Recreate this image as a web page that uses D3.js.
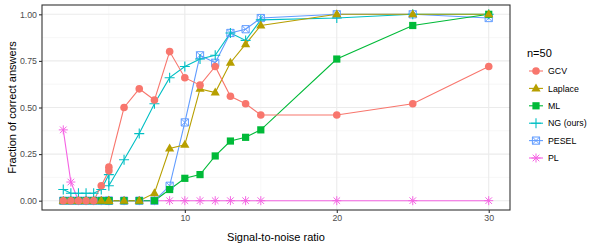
<!DOCTYPE html>
<html>
<head>
<meta charset="utf-8">
<script src="https://cdn.jsdelivr.net/npm/d3@7"></script>
<style>
  body { margin: 0; background: #fff; }
  text { font-family: "Liberation Sans", Arial, sans-serif; }
</style>
</head>
<body>
<main></main>
<script>
// Data
const snr = [2, 2.5, 3, 3.5, 4, 4.5, 5, 5, 6, 7, 8, 9, 10, 11, 12, 13, 14, 15, 20, 25, 30];
const gcv     = [0, 0, 0, 0, 0, 0.08, 0.16, 0.18, 0.50, 0.60, 0.54, 0.80, 0.66, 0.62, 0.72, 0.56, 0.52, 0.46, 0.46, 0.52, 0.72];
const laplace = [0, 0, 0, 0, 0, 0, 0, 0, 0, 0, 0.04, 0.28, 0.30, 0.60, 0.58, 0.74, 0.84, 0.94, 1, 1, 1];
const ml      = [0, 0, 0, 0, 0, 0, 0, 0, 0, 0, 0, 0.06, 0.12, 0.14, 0.24, 0.32, 0.34, 0.38, 0.76, 0.94, 1];
const ng      = [0.06, 0.04, 0.04, 0.04, 0.04, 0.06, 0.14, 0.08, 0.22, 0.36, 0.52, 0.66, 0.72, 0.76, 0.78, 0.90, 0.86, 0.97, 0.98, 1, 1];
const pesel   = [0, 0, 0, 0, 0, 0, 0, 0, 0, 0, 0, 0.08, 0.42, 0.78, 0.74, 0.90, 0.92, 0.98, 1, 1, 0.98];
const pl      = [0.38, 0.10, 0, 0, 0, 0, 0, 0, 0, 0, 0, 0, 0, 0, 0, 0, 0, 0, 0, 0, 0];

const methodNames = ["GCV", "Laplace", "ML", "NG (ours)", "PESEL", "PL"];
const methodValues = [gcv, laplace, ml, ng, pesel, pl];
const colors = ["#F8766D", "#B79F00", "#00BA38", "#00BFC4", "#619CFF", "#F564E3"];
const shapes = ["circle", "triangle", "square", "plus", "squarecross", "asterisk"];
const xTicks = [10, 20, 30];
const yTicks = [0, 0.25, 0.5, 0.75, 1];

const series = methodNames.map((name, i) => ({
	name,
	color: colors[i],
	shape: shapes[i],
	points: snr.map((x, j) => ({ x, y: methodValues[i][j] })),
}));

// Dimensions
const dimensions = {
	width: 598,
	height: 244,
	margin: { top: 5, right: 88, bottom: 34, left: 42 },
};
dimensions.boundedWidth = dimensions.width - dimensions.margin.left - dimensions.margin.right;
dimensions.boundedHeight = dimensions.height - dimensions.margin.top - dimensions.margin.bottom;

const svg = d3.select("main")
	.append("svg")
		.attr("width", dimensions.width)
		.attr("height", dimensions.height);

const graph = svg.append("g")
	.attr("transform", `translate(${dimensions.margin.left},${dimensions.margin.top})`);

// Scales (ggplot style 5% expansion)
const xExt = d3.extent(snr);
const xPad = (xExt[1] - xExt[0]) * 0.05;
const xScale = d3.scaleLinear()
	.domain([xExt[0] - xPad, xExt[1] + xPad])
	.range([0, dimensions.boundedWidth]);

const yScale = d3.scaleLinear()
	.domain([-0.05, 1.05])
	.range([dimensions.boundedHeight, 0]);

// Grid
const grid = graph.append("g");
[5, 15, 25].forEach(v => grid.append("line")
	.attr("x1", xScale(v)).attr("x2", xScale(v))
	.attr("y1", 0).attr("y2", dimensions.boundedHeight)
	.attr("stroke", "#F2F2F2").attr("stroke-width", 0.6));
[0.125, 0.375, 0.625, 0.875].forEach(v => grid.append("line")
	.attr("y1", yScale(v)).attr("y2", yScale(v))
	.attr("x1", 0).attr("x2", dimensions.boundedWidth)
	.attr("stroke", "#F2F2F2").attr("stroke-width", 0.6));
xTicks.forEach(v => grid.append("line")
	.attr("x1", xScale(v)).attr("x2", xScale(v))
	.attr("y1", 0).attr("y2", dimensions.boundedHeight)
	.attr("stroke", "#EBEBEB").attr("stroke-width", 1.1));
yTicks.forEach(v => grid.append("line")
	.attr("y1", yScale(v)).attr("y2", yScale(v))
	.attr("x1", 0).attr("x2", dimensions.boundedWidth)
	.attr("stroke", "#EBEBEB").attr("stroke-width", 1.1));

// Marker drawing
function drawMarker(sel, shape, color) {
	if (shape === "circle") {
		sel.append("circle").attr("r", 3.8).attr("fill", color);
	} else if (shape === "triangle") {
		sel.append("path").attr("d", "M0,-5L4.6,3L-4.6,3Z").attr("fill", color);
	} else if (shape === "square") {
		sel.append("rect").attr("x", -3.6).attr("y", -3.6).attr("width", 7.2).attr("height", 7.2).attr("fill", color);
	} else if (shape === "plus") {
		sel.append("path").attr("d", "M-5,0H5M0,-5V5").attr("stroke", color).attr("stroke-width", 1.1).attr("fill", "none");
	} else if (shape === "squarecross") {
		sel.append("path").attr("d", "M-3.6,-3.6H3.6V3.6H-3.6ZM-3.6,-3.6L3.6,3.6M3.6,-3.6L-3.6,3.6")
			.attr("stroke", color).attr("stroke-width", 1).attr("fill", "none");
	} else if (shape === "asterisk") {
		sel.append("path").attr("d", "M-4.5,0H4.5M0,-4.5V4.5M-3.3,-3.3L3.3,3.3M3.3,-3.3L-3.3,3.3")
			.attr("stroke", color).attr("stroke-width", 1).attr("fill", "none");
	}
}

// Lines
const lineGenerator = d3.line()
	.x(d => xScale(d.x))
	.y(d => yScale(d.y));

const reversed = series.slice().reverse();

graph.append("g").selectAll("path")
	.data(reversed)
	.join("path")
		.attr("d", d => lineGenerator(d.points))
		.attr("fill", "none")
		.attr("stroke", d => d.color)
		.attr("stroke-width", 1.1);

// Points
reversed.forEach(s => {
	s.points.forEach(p => {
		const g = graph.append("g")
			.attr("transform", `translate(${xScale(p.x)},${yScale(p.y)})`);
		drawMarker(g, s.shape, s.color);
	});
});

// Panel border
graph.append("rect")
	.attr("width", dimensions.boundedWidth)
	.attr("height", dimensions.boundedHeight)
	.attr("fill", "none")
	.attr("stroke", "#333333")
	.attr("stroke-width", 1.1);

// Axes
const xAxisGenerator = d3.axisBottom(xScale)
	.tickValues(xTicks)
	.tickSize(3)
	.tickPadding(2)
	.tickFormat(d3.format("d"));

const xAxis = graph.append("g")
	.attr("transform", `translate(0,${dimensions.boundedHeight})`)
	.call(xAxisGenerator);

const yAxisGenerator = d3.axisLeft(yScale)
	.tickValues(yTicks)
	.tickSize(3)
	.tickPadding(2)
	.tickFormat(d3.format(".2f"));

const yAxis = graph.append("g")
	.call(yAxisGenerator);

[xAxis, yAxis].forEach(ax => {
	ax.select(".domain").remove();
	ax.selectAll(".tick line").attr("stroke", "#333333").attr("stroke-width", 1.1);
	ax.selectAll(".tick text")
		.attr("fill", "#4D4D4D")
		.style("font-size", "8.8px")
		.style("font-family", "'Liberation Sans', Arial, sans-serif");
});

// Axis titles
svg.append("text")
	.attr("x", dimensions.margin.left + dimensions.boundedWidth / 2)
	.attr("y", 241)
	.attr("text-anchor", "middle")
	.style("font-size", "11px")
	.text("Signal-to-noise ratio");

svg.append("text")
	.attr("transform", `translate(16,${dimensions.margin.top + dimensions.boundedHeight / 2}) rotate(-90)`)
	.attr("text-anchor", "middle")
	.style("font-size", "11px")
	.text("Fraction of correct answers");

// Legend
const legend = svg.append("g").attr("transform", "translate(527,0)");
legend.append("text")
	.attr("x", 0)
	.attr("y", 57)
	.style("font-size", "11px")
	.text("n=50");

series.forEach((s, i) => {
	const row = legend.append("g").attr("transform", `translate(0,${71 + i * 17.4})`);
	row.append("line")
		.attr("x1", 2).attr("x2", 16)
		.attr("stroke", s.color).attr("stroke-width", 1.1);
	const m = row.append("g").attr("transform", "translate(9,0)");
	drawMarker(m, s.shape, s.color);
	row.append("text")
		.attr("x", 21)
		.attr("y", 3.2)
		.style("font-size", "8.8px")
		.text(s.name);
});
</script>
</body>
</html>
